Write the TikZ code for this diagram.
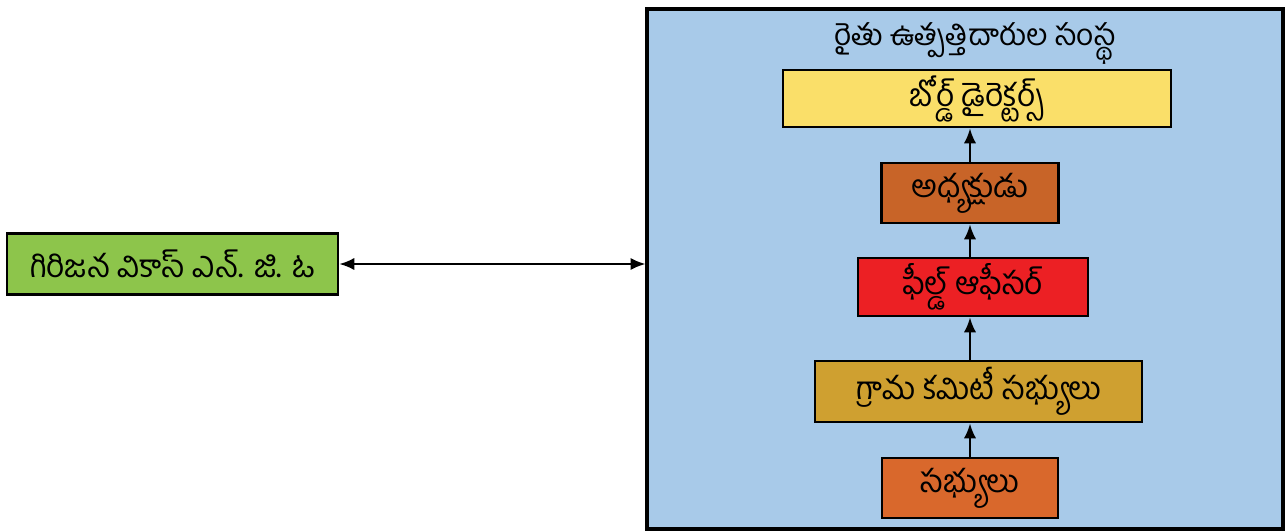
\documentclass[tikz,border=0pt]{standalone}
\usepackage{fontspec}
\newfontfamily\telugufont[Script=Telugu]{Hind Guntur}
\usetikzlibrary{arrows.meta}
\definecolor{sansthablue}{RGB}{168,202,233}
\definecolor{boardyellow}{RGB}{250,223,105}
\definecolor{presbrown}{RGB}{200,100,40}
\definecolor{fieldred}{RGB}{236,32,36}
\definecolor{villagegold}{RGB}{207,160,48}
\definecolor{memberorange}{RGB}{217,104,44}
\definecolor{ngogreen}{RGB}{141,197,75}
\begin{document}
\begin{tikzpicture}[x=0.02cm,y=-0.02cm,
  box/.style={draw,line width=1.6pt,inner sep=0pt,font=\telugufont\fontsize{18}{21}\selectfont},
  flow/.style={line width=1.2pt,-{Latex[length=8.5pt,width=7pt]}}]
\useasboundingbox (0,0) rectangle (1286,531);
\node[draw,line width=1.8pt,fill=sansthablue,minimum width=12.72cm,minimum height=10.4cm,inner sep=0pt] (sanstha) at (965,269) {};
\node[font=\telugufont\fontsize{17}{20}\selectfont] (title) at (975,44) {రైతు ఉత్పత్తిదారుల సంస్థ};
\node[box,fill=boardyellow,minimum width=7.76cm,minimum height=1.14cm] (board) at (977,98.5) {బోర్డ్ డైరెక్టర్స్};
\node[box,fill=presbrown,minimum width=3.54cm,minimum height=1.2cm] (pres) at (970,193) {అధ్యక్షుడు};
\node[box,fill=fieldred,minimum width=4.6cm,minimum height=1.16cm] (field) at (973,287) {ఫీల్డ్ ఆఫీసర్};
\node[box,fill=villagegold,minimum width=6.54cm,minimum height=1.22cm] (village) at (978.5,391.5) {గ్రామ కమిటీ సభ్యులు};
\node[box,fill=memberorange,minimum width=3.52cm,minimum height=1.2cm] (members) at (970,488) {సభ్యులు};
\node[box,fill=ngogreen,minimum width=6.62cm,minimum height=1.22cm] (ngo) at (172.5,264) {గిరిజన వికాస్ ఎన్. జి. ఓ};
% arrows
\draw[flow] (members.north) -- (members.north |- village.south);
\draw[flow] (members.north |- village.north) -- (members.north |- field.south);
\draw[flow] (members.north |- field.north) -- (members.north |- pres.south);
\draw[flow] (pres.north) -- (pres.north |- board.south);
\draw[flow,{Latex[length=8.5pt,width=7pt]}-{Latex[length=8.5pt,width=7pt]}] (ngo.east) -- (ngo.east -| sanstha.west);
\end{tikzpicture}
\end{document}
